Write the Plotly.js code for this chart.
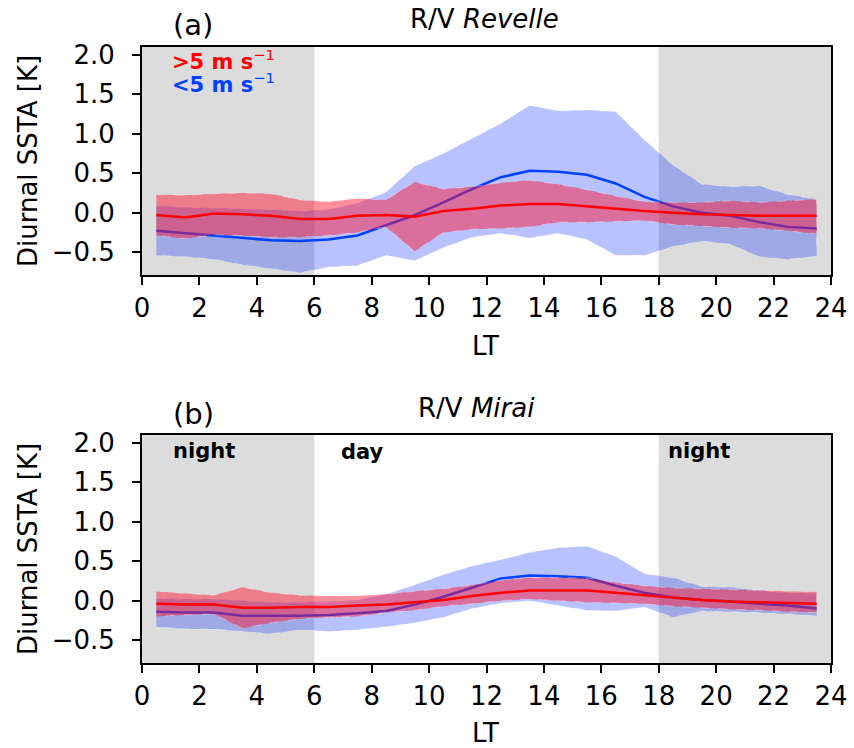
<!DOCTYPE html>
<html>
<head>
<meta charset="utf-8">
<script src="https://cdn.plot.ly/plotly-3.0.1.min.js"></script>
<style>
html,body{margin:0;padding:0;background:#fff;}
#chart{width:854px;height:748px;}
</style>
</head>
<body>
<div id="chart"></div>
<script>
// Local time (hour centres)
const hours = [0.5,1.5,2.5,3.5,4.5,5.5,6.5,7.5,8.5,9.5,10.5,11.5,12.5,13.5,14.5,15.5,16.5,17.5,18.5,19.5,20.5,21.5,22.5,23.5];

// (a) R/V Revelle
const revHighMean  = [-0.03,-0.06,-0.01,-0.02,-0.04,-0.08,-0.08,-0.04,-0.03,-0.05,0.02,0.05,0.09,0.11,0.11,0.08,0.05,0.02,0.00,-0.02,-0.03,-0.04,-0.04,-0.04];
const revHighUpper = [0.23,0.22,0.24,0.25,0.24,0.16,0.14,0.18,0.16,0.39,0.30,0.33,0.38,0.41,0.36,0.29,0.21,0.14,0.13,0.13,0.15,0.13,0.15,0.17];
const revHighLower = [-0.29,-0.33,-0.28,-0.29,-0.31,-0.31,-0.29,-0.25,-0.18,-0.49,-0.25,-0.21,-0.20,-0.18,-0.12,-0.12,-0.11,-0.10,-0.15,-0.17,-0.19,-0.20,-0.23,-0.27];
const revLowMean   = [-0.23,-0.26,-0.29,-0.32,-0.35,-0.36,-0.34,-0.29,-0.16,-0.03,0.13,0.30,0.45,0.53,0.52,0.48,0.37,0.20,0.08,0.00,-0.04,-0.12,-0.18,-0.20];
const revLowUpper  = [0.09,0.07,0.06,0.05,0.04,0.02,0.04,0.12,0.26,0.59,0.75,0.94,1.13,1.36,1.29,1.30,1.28,0.92,0.60,0.36,0.33,0.34,0.23,0.17];
const revLowLower  = [-0.54,-0.56,-0.59,-0.66,-0.71,-0.76,-0.69,-0.67,-0.54,-0.61,-0.44,-0.31,-0.26,-0.32,-0.26,-0.34,-0.54,-0.54,-0.43,-0.36,-0.40,-0.56,-0.59,-0.55];

// (b) R/V Mirai
const miHighMean  = [-0.04,-0.05,-0.05,-0.09,-0.09,-0.08,-0.08,-0.06,-0.05,-0.02,0.01,0.06,0.10,0.13,0.13,0.13,0.10,0.07,0.04,0.01,-0.01,-0.02,-0.03,-0.04];
const miHighUpper = [0.12,0.09,0.07,0.17,0.10,0.07,0.06,0.06,0.08,0.12,0.15,0.20,0.26,0.29,0.29,0.29,0.23,0.19,0.16,0.15,0.14,0.13,0.12,0.11];
const miHighLower = [-0.20,-0.18,-0.17,-0.35,-0.28,-0.23,-0.21,-0.20,-0.15,-0.12,-0.07,-0.04,0.00,0.02,0.00,-0.02,-0.03,-0.04,-0.07,-0.09,-0.11,-0.12,-0.14,-0.15];
const miLowMean   = [-0.14,-0.15,-0.15,-0.19,-0.19,-0.19,-0.18,-0.16,-0.13,-0.05,0.05,0.17,0.28,0.32,0.31,0.29,0.19,0.10,0.04,0.01,-0.01,-0.04,-0.06,-0.10];
const miLowUpper  = [0.03,0.02,0.02,0.00,-0.02,-0.02,-0.01,0.01,0.08,0.20,0.33,0.44,0.52,0.61,0.67,0.69,0.56,0.34,0.29,0.18,0.17,0.13,0.10,0.09];
const miLowLower  = [-0.33,-0.36,-0.36,-0.39,-0.42,-0.37,-0.39,-0.37,-0.33,-0.28,-0.21,-0.10,-0.03,0.00,-0.06,-0.12,-0.13,-0.08,-0.21,-0.13,-0.14,-0.15,-0.17,-0.19];

const xTicks = [0,2,4,6,8,10,12,14,16,18,20,22,24];
const yTicks = [-0.5,0.0,0.5,1.0,1.5,2.0];
const nightSpans = [[0,6],[18,24]];

const BLUE = '#0040ff', RED = '#ff0000';
const BLUE_FILL = 'rgba(10,45,255,0.29)', RED_FILL = 'rgba(255,20,50,0.48)';

function band(x, lo, hi, fill, edge, xa, ya) {
  return {
    x: x.concat(x.slice().reverse()),
    y: hi.concat(lo.slice().reverse()),
    type: 'scatter', mode: 'lines', fill: 'toself',
    fillcolor: fill, line: {color: edge, width: 1, dash: 'dash'},
    xaxis: xa, yaxis: ya, hoverinfo: 'skip', showlegend: false
  };
}
function meanLine(x, y, col, xa, ya) {
  return {x: x, y: y, type: 'scatter', mode: 'lines', line: {color: col, width: 2.5},
          xaxis: xa, yaxis: ya, showlegend: false};
}

const traces = [
  band(hours, revLowLower, revLowUpper, BLUE_FILL, 'rgba(255,255,255,0.35)', 'x', 'y'),
  meanLine(hours, revLowMean, BLUE, 'x', 'y'),
  band(hours, revHighLower, revHighUpper, RED_FILL, 'rgba(255,255,255,0.35)', 'x', 'y'),
  meanLine(hours, revHighMean, RED, 'x', 'y'),
  band(hours, miLowLower, miLowUpper, BLUE_FILL, 'rgba(255,255,255,0.35)', 'x2', 'y2'),
  meanLine(hours, miLowMean, BLUE, 'x2', 'y2'),
  band(hours, miHighLower, miHighUpper, RED_FILL, 'rgba(255,255,255,0.35)', 'x2', 'y2'),
  meanLine(hours, miHighMean, RED, 'x2', 'y2')
];

const W = 854, H = 748;
const xDom = [142/W, 831/W];
const yDomA = [1-275/H, 1-47/H];
const yDomB = [1-663/H, 1-435/H];
const FONT = 'DejaVu Sans, sans-serif';

function xAxis(dom, anchor) {
  return {domain: dom, anchor: anchor, range: [0,24], tickmode: 'array', tickvals: xTicks,
    ticktext: xTicks.map(String), ticks: 'outside', ticklen: 8, tickwidth: 2, tickcolor: '#000',
    ticklabelstandoff: 1,
    showline: true, linewidth: 2, linecolor: '#000', mirror: true, showgrid: false, zeroline: false,
    tickfont: {family: FONT, size: 26, color: '#000'}};
}
function yAxis(dom, anchor) {
  return {domain: dom, anchor: anchor, range: [-0.79,2.1], tickmode: 'array', tickvals: yTicks,
    ticktext: yTicks.map(v => (v < 0 ? '\u2212' : '') + Math.abs(v).toFixed(1)),
    ticks: 'outside', ticklen: 8, tickwidth: 2, tickcolor: '#000', ticklabelstandoff: 12,
    showline: true, linewidth: 2, linecolor: '#000', mirror: true, showgrid: false, zeroline: false,
    tickfont: {family: FONT, size: 26, color: '#000'}};
}

const shapes = [];
[['x','y'],['x2','y2']].forEach(([xa, ya]) => {
  nightSpans.forEach(([a, b]) => {
    shapes.push({type: 'rect', xref: xa, yref: ya + ' domain', x0: a, x1: b, y0: 0, y1: 1,
      fillcolor: 'rgba(128,128,128,0.28)', line: {width: 0}, layer: 'below'});
  });
});

function ann(text, xpx, ypx, size, opts) {
  return Object.assign({text: text, xref: 'paper', yref: 'paper', x: xpx / W, y: 1 - ypx / H,
    showarrow: false, font: {family: FONT, size: size, color: '#000'},
    xanchor: 'center', yanchor: 'middle'}, opts || {});
}

const annotations = [
  ann('(a)', 193, 25, 29),
  ann('R/V <i>Revelle</i>', 485, 19, 26),
  ann('(b)', 193, 414, 29),
  ann('R/V <i>Mirai</i>', 477, 408, 26),
  ann('Diurnal SSTA [K]', 28, 161, 26, {textangle: -90}),
  ann('Diurnal SSTA [K]', 28, 549, 26, {textangle: -90}),
  ann('LT', 486, 346, 26),
  ann('LT', 486, 733, 26),
  ann('<b>&gt;5 m s</b><sup>\u22121</sup>', 170, 60, 21, {xanchor: 'left', font: {family: FONT, size: 21, color: RED}}),
  ann('<b>&lt;5 m s</b><sup>\u22121</sup>', 170, 83, 21, {xanchor: 'left', font: {family: FONT, size: 21, color: BLUE}}),
  ann('<b>night</b>', 204, 451, 21),
  ann('<b>day</b>', 362, 452, 21),
  ann('<b>night</b>', 699, 451, 21)
];

const layout = {
  width: W, height: H, margin: {l: 0, r: 0, t: 0, b: 0},
  paper_bgcolor: '#fff', plot_bgcolor: '#fff', showlegend: false,
  font: {family: FONT, color: '#000'},
  xaxis: xAxis(xDom, 'y'), yaxis: yAxis(yDomA, 'x'),
  xaxis2: xAxis(xDom, 'y2'), yaxis2: yAxis(yDomB, 'x2'),
  shapes: shapes, annotations: annotations
};

Plotly.newPlot('chart', traces, layout, {displayModeBar: false, staticPlot: true});
</script>
</body>
</html>
